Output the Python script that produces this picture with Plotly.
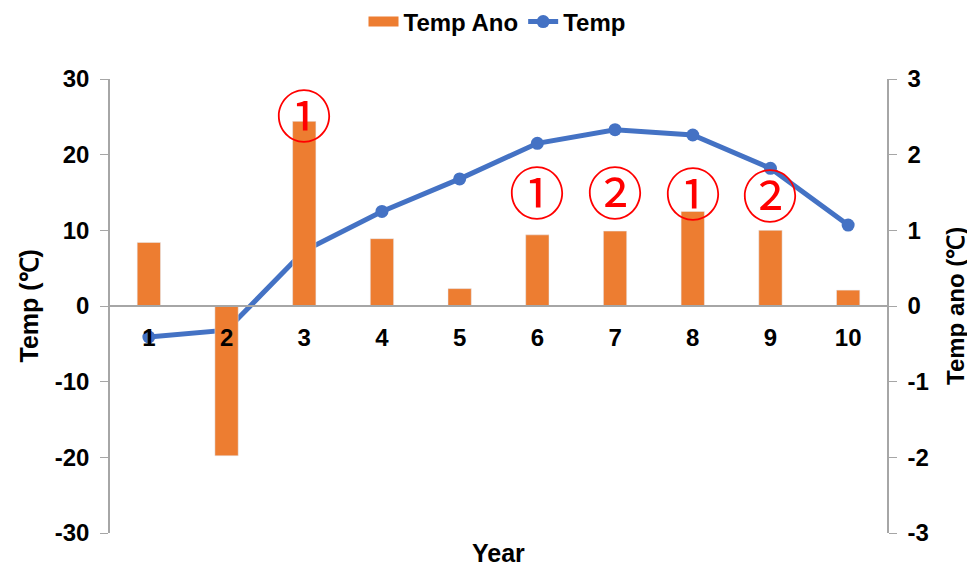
import plotly.graph_objects as go

years = [1, 2, 3, 4, 5, 6, 7, 8, 9, 10]
temp_ano = [0.84, -1.98, 2.44, 0.89, 0.23, 0.94, 0.99, 1.25, 1.00, 0.21]
temp = [-4.1, -3.2, 7.3, 12.5, 16.8, 21.5, 23.3, 22.6, 18.2, 10.7]

mark_years = [3, 6, 7, 8, 9]
mark_labels = ["①", "①", "②", "①", "②"]
mark_y = [25.6, 15.4, 15.4, 15.2, 15.0]

left_ticks = [-30, -20, -10, 0, 10, 20, 30]
left_labels = ["-30", "-20", "-10", "0", "10", "20", "30"]
right_ticks = [-3, -2, -1, 0, 1, 2, 3]
right_labels = ["-3", "-2", "-1", "0", "1", "2", "3"]

ORANGE = "#ED7D31"
BLUE = "#4472C4"
GRAY = "#A6A6A6"
FONT = "Liberation Sans"

# page body has an 8px margin, so the figure is drawn 8px smaller and offset
W, H = 967, 559
L, R, T, B = 102, 88, 71, 34
PW, PH = W - L - R, H - T - B

fig = go.Figure()
fig.add_trace(go.Bar(x=years, y=temp_ano, name="Temp Ano", marker_color=ORANGE,
                     width=0.3, yaxis="y2", showlegend=False))
# legend swatch for the bars (wide rectangle like the reference)
fig.add_trace(go.Scatter(x=[None], y=[None], name="Temp Ano", mode="lines",
                         line=dict(color=ORANGE, width=15), yaxis="y2"))
fig.add_trace(go.Scatter(x=years, y=temp, name="Temp", mode="lines+markers",
                         line=dict(color=BLUE, width=5),
                         marker=dict(color=BLUE, size=13), yaxis="y"))

for xv, lab, yv in zip(mark_years, mark_labels, mark_y):
    fig.add_annotation(x=xv, y=yv, xref="x", yref="y", text=lab, showarrow=False,
                       font=dict(family="Noto Sans CJK SC", size=56, color="#FF0000"))

fig.add_annotation(x=0.5, y=-20 / PH, xref="paper", yref="paper",
                   xanchor="center", yanchor="middle",
                   text="<b>Year</b>", showarrow=False,
                   font=dict(family=FONT, size=25, color="black"))
fig.add_annotation(x=(28.5 - 8 - L) / PW, y=0.5, xref="paper", yref="paper",
                   xanchor="center", yanchor="middle", textangle=-90,
                   text="<b>Temp (℃)</b>", showarrow=False,
                   font=dict(family=FONT, size=25, color="black"))
fig.add_annotation(x=(955 - 8 - L) / PW, y=0.5, xref="paper", yref="paper",
                   xanchor="center", yanchor="middle", textangle=-90,
                   text="<b>Temp ano (℃)</b>", showarrow=False,
                   font=dict(family=FONT, size=24, color="black"))

fig.update_layout(
    width=W, height=H,
    margin=dict(l=L, r=R, t=T, b=B, autoexpand=False),
    plot_bgcolor="white", paper_bgcolor="white",
    font=dict(family=FONT, color="black"),
    showlegend=True,
    legend=dict(orientation="h", x=(497 - 8 - L) / PW, xanchor="center",
                y=1 + (79 - 22) / PH, yanchor="middle",
                font=dict(family=FONT, size=24, color="black", weight="bold"),
                traceorder="normal"),
    xaxis=dict(range=[0.5, 10.5], tickvals=years, ticktext=[str(v) for v in years],
               anchor="free", position=0.5, showline=True, linecolor=GRAY,
               linewidth=2, ticks="outside", ticklen=10,
               tickcolor="rgba(0,0,0,0)", showgrid=False, zeroline=False,
               automargin=False,
               tickfont=dict(family=FONT, size=24, color="black", weight="bold")),
    yaxis=dict(range=[-30, 30], tickvals=left_ticks, ticktext=left_labels,
               showline=True, linecolor=GRAY, automargin=False,
               linewidth=1.5, ticks="outside", ticklen=8, tickcolor=GRAY,
               ticklabelstandoff=6, showgrid=False, zeroline=False,
               tickfont=dict(family=FONT, size=24, color="black", weight="bold")),
    yaxis2=dict(range=[-3, 3], tickvals=right_ticks, ticktext=right_labels,
                overlaying="y", side="right", automargin=False,
                showline=True, linecolor=GRAY, linewidth=1.5, ticks="outside",
                ticklen=8, tickcolor=GRAY, ticklabelstandoff=6,
                showgrid=False, zeroline=False,
                tickfont=dict(family=FONT, size=24, color="black", weight="bold")),
)

fig.write_html("out.html")
